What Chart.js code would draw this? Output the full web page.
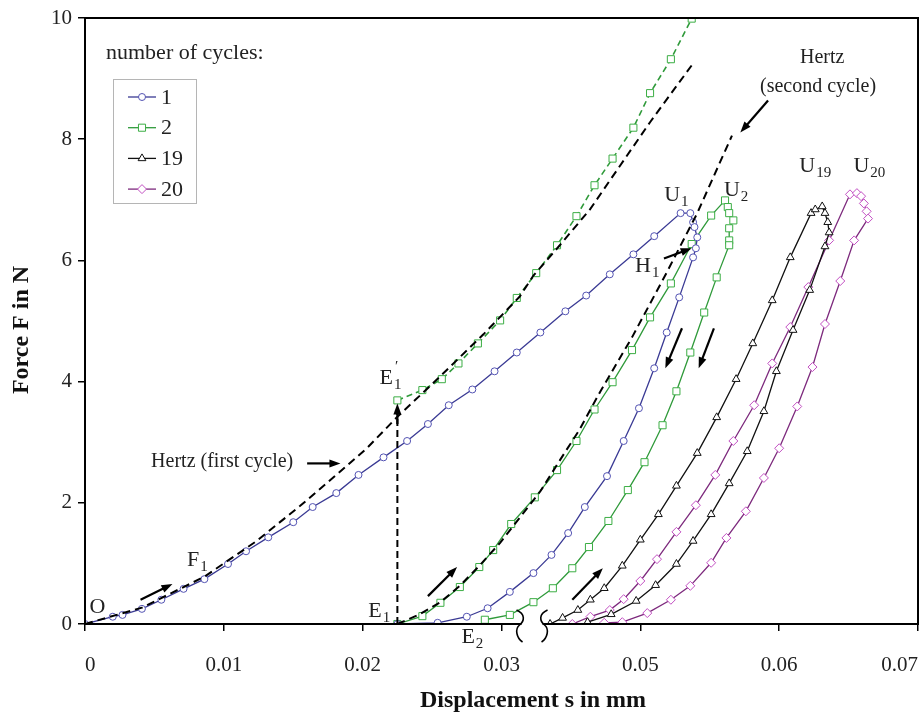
<!DOCTYPE html>
<html>
<head>
<meta charset="utf-8">
<script src="https://cdn.jsdelivr.net/npm/chart.js@4.4.1/dist/chart.umd.min.js"></script>
<style>
  html, body { margin: 0; padding: 0; background: #fff; }
  #wrap { width: 921px; height: 714px; }
</style>
</head>
<body>
<div id="wrap"><canvas id="chartCanvas" width="921" height="714"></canvas></div>
<script>
const xTickLabels = ['0', '0.01', '0.02', '0.03', '0.05', '0.06', '0.07'];
const xTickPos = [0, 0.01, 0.02, 0.03, 0.04, 0.05, 0.06];
const yTicks = [0, 2, 4, 6, 8, 10];
const cycleNames = ['1', '2', '19', '20'];

const cycle1S = [0, 0.0020, 0.0027, 0.0041, 0.0055, 0.0071, 0.0086, 0.0103, 0.0116, 0.0132, 0.0150, 0.0164, 0.0181, 0.0197, 0.0215, 0.0232, 0.0247, 0.0262, 0.0279, 0.0295, 0.0311, 0.0428, 0.0446, 0.0461, 0.0478, 0.0495, 0.0510, 0.0529, 0.0536, 0.0538, 0.0539, 0.0541, 0.0540, 0.0538, 0.0528, 0.0519, 0.0510, 0.0499, 0.0488, 0.0476, 0.0460, 0.0448, 0.0436, 0.0423, 0.0306, 0.0290, 0.0275, 0.0254, 0.0225];
const cycle1F = [0, 0.12, 0.15, 0.25, 0.40, 0.58, 0.74, 0.99, 1.20, 1.43, 1.68, 1.93, 2.16, 2.46, 2.75, 3.02, 3.30, 3.61, 3.87, 4.17, 4.48, 4.81, 5.16, 5.42, 5.77, 6.10, 6.40, 6.78, 6.78, 6.63, 6.55, 6.38, 6.20, 6.05, 5.39, 4.81, 4.22, 3.56, 3.02, 2.44, 1.93, 1.50, 1.14, 0.84, 0.53, 0.26, 0.12, 0.02, 0];

const cycle2S = [0.0225, 0.0243, 0.0256, 0.0270, 0.0284, 0.0294, 0.0307, 0.0424, 0.0440, 0.0454, 0.0467, 0.0480, 0.0494, 0.0507, 0.0522, 0.0537, 0.0551, 0.0561, 0.0563, 0.0564, 0.0567, 0.0564, 0.0564, 0.0564, 0.0555, 0.0546, 0.0536, 0.0526, 0.0516, 0.0503, 0.0491, 0.0477, 0.0463, 0.0451, 0.0437, 0.0423, 0.0306, 0.0288];
const cycle2F = [0, 0.13, 0.35, 0.61, 0.94, 1.22, 1.65, 2.09, 2.54, 3.02, 3.54, 3.99, 4.52, 5.06, 5.62, 6.27, 6.74, 6.99, 6.88, 6.78, 6.66, 6.53, 6.33, 6.25, 5.72, 5.14, 4.48, 3.84, 3.28, 2.67, 2.21, 1.70, 1.27, 0.92, 0.59, 0.36, 0.15, 0.07];

// cycle 2 loading shifted to E1'
const cycle2ShiftS = [0.0225, 0.0243, 0.0257, 0.0269, 0.0283, 0.0299, 0.0311, 0.0425, 0.0440, 0.0454, 0.0467, 0.0480, 0.0495, 0.0507, 0.0522, 0.0537];
const cycle2ShiftF = [3.69, 3.86, 4.04, 4.30, 4.63, 5.01, 5.38, 5.79, 6.25, 6.73, 7.24, 7.68, 8.19, 8.76, 9.32, 9.99];

const cycle19S = [0.0435, 0.0444, 0.0455, 0.0464, 0.0474, 0.0487, 0.0500, 0.0513, 0.0526, 0.0541, 0.0555, 0.0569, 0.0581, 0.0595, 0.0608, 0.0623, 0.0626, 0.0631, 0.0633, 0.0635, 0.0636, 0.0633, 0.0622, 0.0610, 0.0598, 0.0589, 0.0577, 0.0564, 0.0551, 0.0538, 0.0526, 0.0511, 0.0497, 0.0479, 0.0462];
const cycle19F = [0, 0.10, 0.23, 0.40, 0.59, 0.96, 1.39, 1.81, 2.28, 2.82, 3.41, 4.04, 4.63, 5.34, 6.05, 6.78, 6.84, 6.89, 6.78, 6.63, 6.46, 6.23, 5.51, 4.85, 4.17, 3.51, 2.85, 2.32, 1.81, 1.37, 0.99, 0.64, 0.38, 0.16, 0.03];

const cycle20S = [0.0451, 0.0464, 0.0478, 0.0488, 0.0500, 0.0512, 0.0526, 0.0540, 0.0554, 0.0567, 0.0582, 0.0595, 0.0608, 0.0621, 0.0636, 0.0651, 0.0656, 0.0659, 0.0661, 0.0663, 0.0664, 0.0654, 0.0644, 0.0633, 0.0624, 0.0613, 0.0600, 0.0589, 0.0576, 0.0562, 0.0551, 0.0536, 0.0522, 0.0505, 0.0487, 0.0474];
const cycle20F = [0, 0.12, 0.23, 0.41, 0.71, 1.07, 1.52, 1.96, 2.46, 3.02, 3.61, 4.30, 4.90, 5.56, 6.33, 7.09, 7.11, 7.06, 6.94, 6.81, 6.69, 6.33, 5.66, 4.95, 4.24, 3.59, 2.90, 2.41, 1.86, 1.42, 1.01, 0.63, 0.40, 0.18, 0.03, 0.02];

const hertz1S = [0, 0.0041, 0.0086, 0.0123, 0.0155, 0.0179, 0.0203, 0.0225, 0.0251, 0.0287, 0.0313, 0.0423, 0.0442, 0.0464, 0.0485, 0.0507, 0.0538];
const hertz1F = [0, 0.27, 0.78, 1.36, 1.95, 2.42, 2.90, 3.42, 3.98, 4.78, 5.40, 5.75, 6.25, 6.85, 7.55, 8.28, 9.25];

const hertz2S = [0.0225, 0.0241, 0.0256, 0.0270, 0.0284, 0.0299, 0.0313, 0.0428, 0.0442, 0.0456, 0.0471, 0.0494, 0.0519, 0.0541, 0.0566];
const hertz2F = [0, 0.16, 0.36, 0.63, 0.96, 1.34, 1.75, 2.19, 2.70, 3.20, 3.83, 4.73, 5.80, 6.78, 8.06];

// jump E1 -> E1'
const jumpS = [0.0225, 0.0225];
const jumpF = [0, 3.62];

// axis break: labels jump from 0.03 to 0.05
const toAxis = s => (s > 0.04 ? s - 0.01 : s);
const pts = (s, f) => s.map((v, i) => ({ x: toAxis(v), y: f[i] }));

const SERIF = '"Liberation Serif", "DejaVu Serif", serif';
const BLUE = '#3a3a94', BLUE_PT = '#5353b3';
const GREEN = '#2f9a3a', GREEN_PT = '#3cae45';
const BLACK = '#111';
const MAG = '#7d2a7d', MAG_PT = '#c24fc2';

const styles = [
  { line: BLUE, pt: BLUE_PT, shape: 'circle', r: 3.5 },
  { line: GREEN, pt: GREEN_PT, shape: 'rect', r: 5 },
  { line: BLACK, pt: BLACK, shape: 'triangle', r: 4.5 },
  { line: MAG, pt: MAG_PT, shape: 'rectRot', r: 4.5 },
];

const series = (data, st, extra) => Object.assign({
  data, showLine: true, borderColor: st.line, borderWidth: 1.3,
  pointStyle: st.shape, pointRadius: st.r, pointBorderColor: st.pt,
  pointBackgroundColor: '#fff', pointBorderWidth: 1, tension: 0,
}, extra || {});

const dashed = (data, dash) => ({
  data, showLine: true, borderColor: '#000', borderWidth: 2,
  borderDash: dash, pointRadius: 0, tension: 0,
});

const notes = [
  { t: 'O', x: 0.0009, y: 0.28 },
  { t: 'F', sub: '1', x: 0.0081, y: 1.06 },
  { t: 'Hertz (first cycle)', x: 0.0150, y: 2.67, align: 'right', size: 20 },
  { t: 'E', sub: '1', x: 0.0212, y: 0.21 },
  { t: 'E', sub: '2', x: 0.0279, y: -0.21 },
  { t: 'E', sub: '1', prime: true, x: 0.0220, y: 4.06 },
  { t: 'U', sub: '1', x: 0.0526, y: 7.07 },
  { t: 'U', sub: '2', x: 0.0569, y: 7.16 },
  { t: 'U', sub: '19', x: 0.0626, y: 7.55 },
  { t: 'U', sub: '20', x: 0.0665, y: 7.55 },
  { t: 'H', sub: '1', x: 0.0505, y: 5.90 },
  { t: 'Hertz', x: 0.0631, y: 9.35, size: 20 },
  { t: '(second cycle)', x: 0.0628, y: 8.87, size: 20 },
];

const arrows = [
  [0.0040, 0.40, 0.0063, 0.66],
  [0.0160, 2.65, 0.0184, 2.65],
  [0.0247, 0.46, 0.0268, 0.94],
  [0.0451, 0.40, 0.0473, 0.92],
  [0.0530, 4.88, 0.0518, 4.22],
  [0.0553, 4.88, 0.0542, 4.22],
  [0.0517, 6.03, 0.0537, 6.20],
  [0.0592, 8.64, 0.0572, 8.11],
  [0.0225, 3.3, 0.0225, 3.64],
];

function arrowHead(ctx, x1, y1, x2, y2) {
  const a = Math.atan2(y2 - y1, x2 - x1);
  ctx.beginPath();
  ctx.moveTo(x2, y2);
  ctx.lineTo(x2 - 11 * Math.cos(a) + 4 * Math.sin(a), y2 - 11 * Math.sin(a) - 4 * Math.cos(a));
  ctx.lineTo(x2 - 11 * Math.cos(a) - 4 * Math.sin(a), y2 - 11 * Math.sin(a) + 4 * Math.cos(a));
  ctx.closePath();
  ctx.fill();
}

const extras = {
  id: 'extras',
  afterDraw(chart) {
    const { ctx, chartArea: ca, scales } = chart;
    const X = v => scales.x.getPixelForValue(toAxis(v));
    const Y = v => scales.y.getPixelForValue(v);
    ctx.save();

    // frame
    ctx.strokeStyle = '#000';
    ctx.lineWidth = 2;
    ctx.strokeRect(ca.left, ca.top, ca.right - ca.left, ca.bottom - ca.top);

    // axis break marks
    const b1 = X(0.0313), b2 = X(0.0431), yb = ca.bottom;
    ctx.fillStyle = '#fff';
    ctx.fillRect(b1 + 2, yb - 2, b2 - b1 - 4, 4);
    ctx.strokeStyle = '#000';
    ctx.lineWidth = 1.6;
    [b1, b2].forEach((bx, k) => {
      const d = k === 0 ? 1 : -1;
      ctx.beginPath();
      ctx.moveTo(bx - 3 * d, yb - 14);
      ctx.bezierCurveTo(bx + 6 * d, yb - 10, bx + 5 * d, yb - 3, bx, yb + 1);
      ctx.bezierCurveTo(bx - 5 * d, yb + 5, bx - 3 * d, yb + 14, bx + 3 * d, yb + 18);
      ctx.stroke();
    });

    // arrows
    ctx.fillStyle = '#000';
    ctx.lineWidth = 2.2;
    arrows.forEach(a => {
      const x1 = X(a[0]), y1 = Y(a[1]), x2 = X(a[2]), y2 = Y(a[3]);
      const ang = Math.atan2(y2 - y1, x2 - x1);
      ctx.beginPath();
      ctx.moveTo(x1, y1);
      ctx.lineTo(x2 - 8 * Math.cos(ang), y2 - 8 * Math.sin(ang));
      ctx.stroke();
      arrowHead(ctx, x1, y1, x2, y2);
    });

    // text notes
    ctx.fillStyle = '#222';
    ctx.textBaseline = 'middle';
    ctx.textAlign = 'left';
    notes.forEach(n => {
      const size = n.size || 22;
      ctx.font = `${size}px ${SERIF}`;
      const w1 = ctx.measureText(n.t).width;
      ctx.font = `15px ${SERIF}`;
      const w2 = n.sub ? ctx.measureText(n.sub).width + 1 : 0;
      const x = X(n.x), y = Y(n.y);
      const x0 = n.align === 'right' ? x - w1 - w2 : x - (w1 + w2) / 2;
      ctx.font = `${size}px ${SERIF}`;
      ctx.fillText(n.t, x0, y);
      if (n.sub) {
        ctx.font = `15px ${SERIF}`;
        ctx.fillText(n.sub, x0 + w1 + 1, y + 7);
        if (n.prime) ctx.fillText('\u2032', x0 + w1 + 2, y - 11);
      }
    });

    // legend
    ctx.font = `22px ${SERIF}`;
    ctx.fillText('number of cycles:', ca.left + 21, ca.top + 35);
    ctx.strokeStyle = '#b5b5b5';
    ctx.lineWidth = 1;
    ctx.strokeRect(ca.left + 28.5, ca.top + 61.5, 83, 124);
    cycleNames.forEach((name, i) => {
      const st = styles[i];
      const ly = ca.top + 79 + i * 30.7;
      ctx.strokeStyle = st.line;
      ctx.lineWidth = 1.3;
      ctx.beginPath();
      ctx.moveTo(ca.left + 43, ly);
      ctx.lineTo(ca.left + 71, ly);
      ctx.stroke();
      ctx.fillStyle = '#fff';
      ctx.strokeStyle = st.pt;
      ctx.lineWidth = 1;
      Chart.helpers.drawPoint(ctx, { pointStyle: st.shape, radius: st.r, rotation: 0, borderWidth: 1 }, ca.left + 57, ly);
      ctx.fillStyle = '#222';
      ctx.font = `22px ${SERIF}`;
      ctx.fillText(name, ca.left + 76, ly + 1);
    });

    // axis titles
    ctx.fillStyle = '#111';
    ctx.font = `bold 24px ${SERIF}`;
    ctx.textAlign = 'center';
    ctx.fillText('Displacement s in mm', 533, 701);
    ctx.translate(22, 330);
    ctx.rotate(-Math.PI / 2);
    ctx.fillText('Force F in N', 0, 0);
    ctx.restore();
  }
};

const tickFont = { family: SERIF, size: 21 };

new Chart(document.getElementById('chartCanvas'), {
  type: 'scatter',
  data: {
    datasets: [
      dashed(pts(hertz1S, hertz1F), [8, 5]),
      dashed(pts(hertz2S, hertz2F), [8, 5]),
      dashed(pts(jumpS, jumpF), [7, 4]),
      series(pts(cycle2ShiftS, cycle2ShiftF), styles[1], { borderDash: [6, 4], borderWidth: 1.6 }),
      series(pts(cycle1S, cycle1F), styles[0]),
      series(pts(cycle2S, cycle2F), styles[1]),
      series(pts(cycle19S, cycle19F), styles[2]),
      series(pts(cycle20S, cycle20F), styles[3]),
    ],
  },
  options: {
    responsive: false,
    devicePixelRatio: 1,
    animation: false,
    layout: { autoPadding: false, padding: { top: 18, right: 3, left: 0, bottom: 0 } },
    plugins: { legend: { display: false }, tooltip: { enabled: false } },
    scales: {
      x: {
        type: 'linear', min: 0, max: 0.06,
        afterBuildTicks: s => { s.ticks = xTickPos.map(v => ({ value: v })); },
        afterFit: s => { s.height = 90; s.paddingLeft = 0; s.paddingRight = 0; },
        ticks: { callback: (v, i) => xTickLabels[i], font: tickFont, color: '#222', padding: 22, maxRotation: 0, autoSkip: false, align: 'inner' },
        grid: { drawOnChartArea: false, tickLength: 7, color: '#000', lineWidth: 1.5 },
        border: { color: '#000', width: 2 },
      },
      y: {
        min: 0, max: 10,
        afterBuildTicks: s => { s.ticks = yTicks.map(v => ({ value: v })); },
        afterFit: s => { s.width = 85; s.paddingTop = 0; s.paddingBottom = 0; },
        ticks: { callback: v => String(v), font: tickFont, color: '#222', padding: 6 },
        grid: { drawOnChartArea: false, tickLength: 7, color: '#000', lineWidth: 1.5 },
        border: { color: '#000', width: 2 },
      },
    },
  },
  plugins: [extras],
});
</script>
</body>
</html>
